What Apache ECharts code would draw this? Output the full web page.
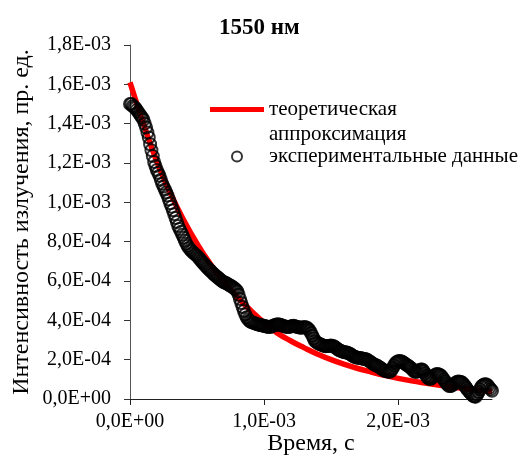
<!DOCTYPE html>
<html>
<head>
<meta charset="utf-8">
<script src="https://cdn.jsdelivr.net/npm/echarts@6/dist/echarts.min.js"></script>
<style>
html,body{margin:0;padding:0;background:#fff;}
#chart{width:524px;height:457px;}
</style>
</head>
<body>
<div id="chart"></div>
<script>
var expTimeMs = [
0.00,0.01,0.02,0.03,0.04,0.05,0.06,0.07,0.08,0.09,
0.10,0.11,0.12,0.13,0.14,0.15,0.16,0.17,0.18,0.19,
0.20,0.21,0.22,0.23,0.24,0.25,0.26,0.27,0.28,0.29,
0.30,0.31,0.32,0.33,0.34,0.35,0.36,0.37,0.38,0.39,
0.40,0.41,0.42,0.43,0.44,0.45,0.46,0.47,0.48,0.49,
0.50,0.51,0.52,0.53,0.54,0.55,0.56,0.57,0.58,0.59,
0.60,0.61,0.62,0.63,0.64,0.65,0.66,0.67,0.68,0.69,
0.70,0.71,0.72,0.73,0.74,0.75,0.76,0.77,0.78,0.79,
0.80,0.81,0.82,0.83,0.84,0.85,0.86,0.87,0.88,0.89,
0.90,0.91,0.92,0.93,0.94,0.95,0.96,0.97,0.98,0.99,
1.00,1.01,1.02,1.03,1.04,1.05,1.06,1.07,1.08,1.09,
1.10,1.11,1.12,1.13,1.14,1.15,1.16,1.17,1.18,1.19,
1.20,1.21,1.22,1.23,1.24,1.25,1.26,1.27,1.28,1.29,
1.30,1.31,1.32,1.33,1.34,1.35,1.36,1.37,1.38,1.39,
1.40,1.41,1.42,1.43,1.44,1.45,1.46,1.47,1.48,1.49,
1.50,1.51,1.52,1.53,1.54,1.55,1.56,1.57,1.58,1.59,
1.60,1.61,1.62,1.63,1.64,1.65,1.66,1.67,1.68,1.69,
1.70,1.71,1.72,1.73,1.74,1.75,1.76,1.77,1.78,1.79,
1.80,1.81,1.82,1.83,1.84,1.85,1.86,1.87,1.88,1.89,
1.90,1.91,1.92,1.93,1.94,1.95,1.96,1.97,1.98,1.99,
2.00,2.01,2.02,2.03,2.04,2.05,2.06,2.07,2.08,2.09,
2.10,2.11,2.12,2.13,2.14,2.15,2.16,2.17,2.18,2.19,
2.20,2.21,2.22,2.23,2.24,2.25,2.26,2.27,2.28,2.29,
2.30,2.31,2.32,2.33,2.34,2.35,2.36,2.37,2.38,2.39,
2.40,2.41,2.42,2.43,2.44,2.45,2.46,2.47,2.48,2.49,
2.50,2.51,2.52,2.53,2.54,2.55,2.56,2.57,2.58,2.59,
2.60,2.61,2.62,2.63,2.64,2.65,2.66,2.67,2.68,2.69,
2.70];
var expIntensity = [
1.500,1.500,1.490,1.485,1.480,1.470,1.460,1.450,1.440,1.430,
1.420,1.400,1.380,1.355,1.330,1.295,1.265,1.235,1.205,1.185,
1.165,1.150,1.135,1.115,1.095,1.080,1.065,1.050,1.035,1.015,
0.995,0.978,0.960,0.940,0.920,0.900,0.880,0.865,0.850,0.835,
0.820,0.805,0.790,0.778,0.768,0.759,0.752,0.745,0.739,0.733,
0.728,0.720,0.712,0.703,0.695,0.688,0.680,0.672,0.665,0.658,
0.652,0.645,0.638,0.632,0.626,0.620,0.615,0.609,0.603,0.598,
0.594,0.591,0.588,0.584,0.580,0.576,0.572,0.567,0.562,0.556,
0.548,0.530,0.508,0.488,0.468,0.448,0.430,0.416,0.405,0.398,
0.393,0.390,0.388,0.385,0.382,0.380,0.378,0.376,0.375,0.373,
0.372,0.370,0.368,0.367,0.366,0.367,0.370,0.373,0.376,0.378,
0.380,0.379,0.377,0.375,0.372,0.370,0.368,0.367,0.366,0.367,
0.369,0.371,0.372,0.370,0.368,0.366,0.364,0.363,0.362,0.364,
0.366,0.365,0.362,0.356,0.348,0.336,0.322,0.308,0.295,0.289,
0.284,0.281,0.278,0.275,0.272,0.270,0.268,0.269,0.270,0.271,
0.272,0.270,0.268,0.263,0.258,0.253,0.248,0.245,0.242,0.240,
0.238,0.237,0.236,0.233,0.230,0.225,0.220,0.216,0.213,0.211,
0.210,0.209,0.208,0.206,0.205,0.203,0.202,0.199,0.195,0.190,
0.185,0.180,0.176,0.173,0.170,0.166,0.162,0.157,0.152,0.148,
0.144,0.142,0.140,0.139,0.138,0.146,0.158,0.170,0.182,0.188,
0.192,0.193,0.192,0.189,0.185,0.180,0.175,0.170,0.166,0.161,
0.155,0.147,0.140,0.138,0.138,0.143,0.148,0.150,0.150,0.141,
0.130,0.118,0.108,0.104,0.102,0.106,0.112,0.119,0.125,0.127,
0.126,0.123,0.118,0.110,0.100,0.090,0.080,0.072,0.066,0.066,
0.068,0.073,0.078,0.083,0.088,0.089,0.088,0.086,0.082,0.074,
0.065,0.055,0.045,0.037,0.030,0.022,0.015,0.012,0.012,0.022,
0.035,0.049,0.062,0.069,0.074,0.075,0.074,0.067,0.058,0.050,
0.042];

// Theoretical approximation curve: time (ms) and intensity (x1e-3)
var fitTimeMs = [0.0,0.1,0.2,0.3,0.4,0.5,0.6,0.7,0.8,0.9,1.0,1.1,1.2,1.3,1.4,1.5,1.6,1.7,1.8,1.9,2.0,2.1,2.2,2.3,2.4,2.5,2.6,2.7];
var fitIntensity = [1.610,1.400,1.207,1.048,0.910,0.790,0.686,0.596,0.518,0.450,0.388,0.335,0.295,0.260,0.228,0.200,0.176,0.155,0.137,0.120,0.105,0.092,0.081,0.071,0.062,0.052,0.044,0.038];

var xTicks = [0, 0.001, 0.002];
var seriesNames = ['теоретическая\nаппроксимация', 'экспериментальные данные'];
var titleText = '1550 нм';
var xName = 'Время, с';
var yName = 'Интенсивность излучения, пр. ед.';

function sci(v) {
  if (Math.abs(v) < 1e-12) return '0,0E+00';
  var e = Math.floor(Math.log10(Math.abs(v)) + 1e-9);
  var m = v / Math.pow(10, e);
  var es = (e < 0 ? '-' : '+') + (Math.abs(e) < 10 ? '0' : '') + Math.abs(e);
  return m.toFixed(1).replace('.', ',') + 'E' + es;
}

var fitData = fitTimeMs.map(function (t, i) { return [t * 1e-3, fitIntensity[i] * 1e-3]; });
var expData = expTimeMs.map(function (t, i) { return [t * 1e-3, expIntensity[i] * 1e-3]; });

var font = 'Liberation Serif';
var chart = echarts.init(document.getElementById('chart'), null, {renderer: 'canvas'});
chart.setOption({
  animation: false,
  backgroundColor: '#fff',
  title: {
    text: titleText,
    left: 214, top: 12,
    textStyle: {fontFamily: font, fontSize: 23, fontWeight: 'bold', color: '#000'}
  },
  legend: {
    orient: 'vertical',
    left: 205, top: 67,
    itemWidth: 54, itemHeight: 10,
    itemGap: -3,
    data: [
      {name: seriesNames[0], icon: 'path://M0 0H54V5H0Z'},
      {name: seriesNames[1]}
    ],
    formatter: function (name) { return name === seriesNames[0] ? '\n' + name : name; },
    textStyle: {fontFamily: font, fontSize: 21, color: '#000', lineHeight: 25}
  },
  grid: {left: 130, right: 32, top: 45, bottom: 58, containLabel: false, outerBoundsMode: 'none'},
  xAxis: {
    type: 'value', min: 0, max: 0.0027, interval: 0.001,
    name: xName, nameLocation: 'middle', nameGap: 33, nameMoveOverlap: false,
    nameTextStyle: {fontFamily: font, fontSize: 24, color: '#000'},
    splitLine: {show: false},
    axisLine: {lineStyle: {color: '#222', width: 1}},
    axisTick: {show: true, length: 6, inside: false, customValues: xTicks, lineStyle: {color: '#222'}},
    axisLabel: {customValues: xTicks, formatter: sci, fontFamily: font, fontSize: 20, color: '#000', margin: 13}
  },
  yAxis: {
    type: 'value', min: 0, max: 0.0018, interval: 0.0002,
    name: yName, nameLocation: 'middle', nameGap: 96, nameMoveOverlap: false,
    nameTextStyle: {fontFamily: font, fontSize: 24, color: '#000'},
    splitLine: {show: false},
    axisLine: {show: true, lineStyle: {color: '#555', width: 1}},
    axisTick: {show: true, length: 6, inside: false, lineStyle: {color: '#333'}},
    axisLabel: {formatter: sci, fontFamily: font, fontSize: 20, color: '#000', margin: 19}
  },
  series: [
    {
      name: seriesNames[0], type: 'line', data: fitData, smooth: true,
      symbol: 'none', z: 2,
      lineStyle: {color: '#ff0000', width: 5.5},
      itemStyle: {color: '#ff0000'}
    },
    {
      name: seriesNames[1], type: 'scatter', data: expData, z: 3,
      symbol: 'circle', symbolSize: 12,
      itemStyle: {color: 'rgba(0,0,0,0)', borderColor: '#000', borderWidth: 2}
    }
  ]
});
</script>
</body>
</html>
